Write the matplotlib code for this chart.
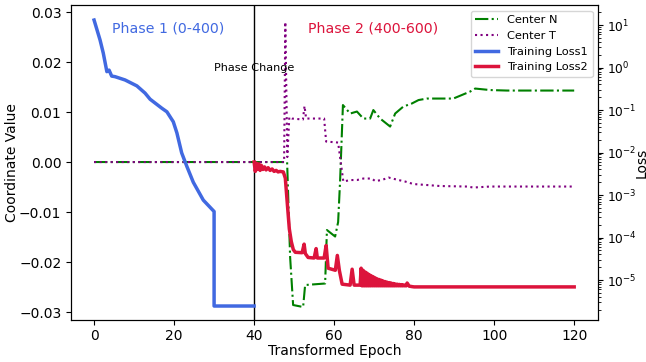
import numpy as np
import matplotlib
matplotlib.use("Agg")
import matplotlib.pyplot as plt

# phase 1 loss (right axis)
x_loss1 = [0, 1.5, 2.3, 3.2, 3.75, 4.4, 5.25, 7.75, 10.7, 12.75, 14, 16.9, 18.2, 19.8,
           20.7, 21.9, 23.2, 24.8, 27.3, 30, 30, 40]
loss1 = [13.1, 4.44, 2.19, 0.80, 0.87, 0.63, 0.61, 0.51, 0.37, 0.25, 0.18, 0.111, 0.091,
         0.053, 0.029, 0.0098, 0.0047, 0.0020, 7.6e-4, 4.1e-4, 2.45e-6, 2.45e-6]

# phase 2 loss (right axis)
x_loss2 = [40.0, 40.3, 40.6, 40.9, 41.2, 41.5, 41.8, 42.2, 42.6, 43.0, 43.5, 44.0, 44.5,
           45.0, 45.5, 46.0, 46.5, 47.3, 47.8, 48.3, 48.8, 49.3, 49.8, 50.3, 52.0, 52.5,
           52.8, 53.5, 55.0, 55.5, 55.8, 57.5, 58.0, 58.5, 60.3, 60.8, 61.3, 62.0, 64.0,
           64.5, 65.0, 66.5,
           66.75, 67.0, 67.25, 67.5, 67.75, 68.0, 68.25, 68.5, 68.75, 69.0, 69.25, 69.5,
           69.75, 70.0, 70.25, 70.5, 70.75, 71.0, 71.25, 71.5, 71.75, 72.0, 72.25, 72.5,
           72.75, 73.0, 73.25, 73.5, 73.75, 74.0, 74.25, 74.5, 74.75, 75.0, 75.25, 75.5,
           75.75, 76.0, 76.25, 76.5, 76.75, 77.0, 77.25, 77.5, 77.75, 78.0, 78.25, 78.75,
           79.5, 80, 120]
loss2 = [6.0e-3, 3.6e-3, 5.6e-3, 4.0e-3, 5.4e-3, 3.8e-3, 5.0e-3, 4.0e-3, 4.6e-3, 3.9e-3,
         4.4e-3, 3.8e-3, 4.1e-3, 3.6e-3, 3.8e-3, 3.5e-3, 3.6e-3, 3.5e-3, 2.5e-3, 6.3e-4,
         1.6e-4, 8.0e-5, 5.2e-5, 4.5e-5, 4.4e-5, 7.0e-5, 4.2e-5, 3.4e-5, 3.3e-5, 5.5e-5,
         3.3e-5, 3.3e-5, 6.5e-5, 1.9e-5, 1.7e-5, 3.8e-5, 1.7e-5, 8.0e-6, 7.6e-6, 1.8e-5,
         7.6e-6, 7.6e-6,
         1.9e-5, 7.3e-6, 1.7e-5, 7.3e-6, 1.55e-5, 7.3e-6, 1.45e-5, 7.3e-6, 1.35e-5, 7.3e-6,
         1.27e-5, 7.3e-6, 1.2e-5, 7.3e-6, 1.13e-5, 7.3e-6, 1.07e-5, 7.3e-6, 1.03e-5, 7.3e-6,
         9.9e-6, 7.3e-6, 9.5e-6, 7.3e-6, 9.2e-6, 7.3e-6, 8.9e-6, 7.3e-6, 8.7e-6, 7.3e-6,
         8.5e-6, 7.3e-6, 8.3e-6, 7.3e-6, 8.1e-6, 7.3e-6, 8.0e-6, 7.3e-6, 7.9e-6, 7.3e-6,
         7.8e-6, 7.3e-6, 7.7e-6, 7.3e-6, 7.6e-6, 7.3e-6, 8.5e-6, 7.2e-6,
         7.0e-6, 6.9e-6, 6.9e-6]

# center coordinates (left axis)
x_n = [0, 48.25, 49, 49.75, 52.25, 52.75, 57.75, 58.2, 60.25, 61, 61.5, 62.2, 64, 65.7,
       67.3, 69, 69.8, 71.5, 74, 75.25, 77.3, 79.4, 81.1, 83.2, 86.5, 89.8, 94, 95.25,
       99, 103.2, 120]
center_n = [0, 0, -0.019, -0.0286, -0.029, -0.0246, -0.0243, -0.0136, -0.0149, -0.012,
            -0.0036, 0.0114, 0.0097, 0.0101, 0.0087, 0.0087, 0.0104, 0.0087, 0.0071,
            0.0097, 0.0111, 0.0117, 0.0124, 0.0127, 0.0127, 0.0127, 0.0141, 0.0147,
            0.0144, 0.0143, 0.0143]

x_t = [0, 47.5, 47.8, 48.3, 48.8, 49.5, 52.2, 52.6, 53, 57.5, 58, 61, 62.3, 64, 65.7,
       67.3, 69.4, 70.25, 71.9, 73.6, 76.1, 77.75, 79.8, 83.2, 86.5, 93.2, 94.8, 99, 120]
center_t = [0, 0, 0.028, 0.001, 0.009, 0.0087, 0.0085, 0.0112, 0.0087, 0.0087, 0.0041,
            0.0039, -0.0039, -0.0036, -0.0036, -0.0033, -0.0033, -0.0038, -0.0036,
            -0.0031, -0.0036, -0.0039, -0.0044, -0.0046, -0.0048, -0.0049, -0.0051,
            -0.0049, -0.0049]

fig, ax = plt.subplots(figsize=(6.46, 3.62), dpi=100)
fig.subplots_adjust(left=0.110, right=0.926, bottom=0.116, top=0.986)

l_n, = ax.plot(x_n, center_n, '-.', color='green', lw=1.5, label='Center N')
l_t, = ax.plot(x_t, center_t, ':', color='purple', lw=1.5, label='Center T')
ax.axvline(40, color='black', lw=1)
ax.text(40, 0.0188, 'Phase Change', ha='center', va='center', fontsize=8.1)
ax.text(4.5, 0.0268, 'Phase 1 (0-400)', color='royalblue', fontsize=10.2, va='center')
ax.text(53.5, 0.0268, 'Phase 2 (400-600)', color='crimson', fontsize=10.2, va='center')
ax.set_xlim(-5.75, 126)
ax.set_ylim(-0.0316, 0.0314)
ax.tick_params(axis='x', pad=3)
ax.set_xlabel('Transformed Epoch', labelpad=1)
ax.set_ylabel('Coordinate Value', labelpad=0)

ax2 = ax.twinx()
l_1, = ax2.plot(x_loss1, loss1, color='royalblue', lw=2.5, label='Training Loss1')
l_2, = ax2.plot(x_loss2, loss2, color='crimson', lw=2.5, label='Training Loss2')
ax2.set_yscale('log')
ax2.set_ylim(10 ** -5.94, 10 ** 1.47)
ax2.tick_params(axis='y', labelsize=8.8, pad=3)
ax2.set_ylabel('Loss', rotation=90, rotation_mode='anchor', ha='center', va='top')
ax2.yaxis.set_label_coords(1.069, 0.5)

ax2.legend(handles=[l_n, l_t, l_1, l_2], loc='upper right', fontsize=8.2)

fig.savefig('out.png', dpi=100)
